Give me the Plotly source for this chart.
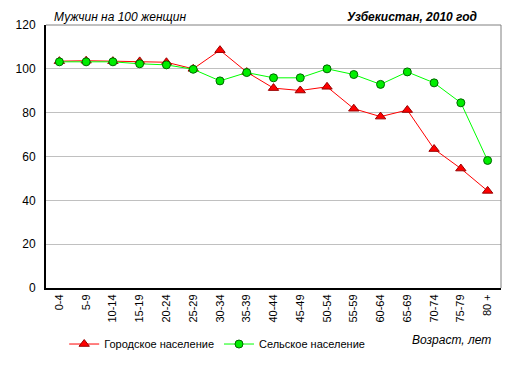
import plotly.graph_objects as go

categories = ["0-4", "5-9", "10-14", "15-19", "20-24", "25-29", "30-34", "35-39",
              "40-44", "45-49", "50-54", "55-59", "60-64", "65-69", "70-74", "75-79", "80 +"]
urban = [103.5, 103.7, 103.5, 103.4, 103.0, 100.0, 108.5, 98.5,
         91.2, 90.1, 91.8, 81.8, 78.2, 81.2, 63.4, 54.5, 44.3]
rural = [103.2, 103.2, 103.2, 102.3, 101.8, 99.8, 94.5, 98.3,
         95.9, 95.9, 100.0, 97.4, 92.9, 98.6, 93.6, 84.5, 58.2]
y_ticks = [0, 20, 40, 60, 80, 100, 120]

FONT = "Liberation Sans, Arial, sans-serif"

fig = go.Figure()
fig.add_trace(go.Scatter(
    x=categories, y=urban, mode="lines+markers", name="Городское население",
    line=dict(color="#ff0000", width=1),
    marker=dict(symbol="triangle-up", size=9, color="#ff0000",
                line=dict(color="#990000", width=1)),
))
fig.add_trace(go.Scatter(
    x=categories, y=rural, mode="lines+markers", name="Сельское население",
    line=dict(color="#00ff00", width=1),
    marker=dict(symbol="circle", size=8, color="#00ee00",
                line=dict(color="#006600", width=1)),
))

fig.update_layout(
    width=518, height=372,
    margin=dict(l=38, r=25, t=17, b=92, autoexpand=False),
    paper_bgcolor="white", plot_bgcolor="white",
    font=dict(family=FONT, size=11, color="black"),
    showlegend=True,
    legend=dict(orientation="h", x=0.04, y=-0.213, xanchor="left", yanchor="middle",
                font=dict(size=11), bgcolor="rgba(0,0,0,0)", itemwidth=30,
                tracegroupgap=0),
    xaxis=dict(type="category", range=[-0.5, 16.5], tickangle=-90, automargin=False,
               showgrid=False, showline=True, linecolor="black", linewidth=2,
               ticks="", tickfont=dict(size=11), zeroline=False),
    yaxis=dict(range=[0, 120], tickvals=y_ticks, showgrid=True, gridcolor="#c0c0c0",
               gridwidth=1, showline=True, linecolor="black", linewidth=2, automargin=False,
               ticks="", tickfont=dict(size=12), zeroline=False, ticklabelstandoff=6),
    shapes=[
        dict(type="line", xref="paper", yref="paper", x0=0, x1=1, y0=1, y1=1,
             line=dict(color="#808080", width=1)),
        dict(type="line", xref="paper", yref="paper", x0=1, x1=1, y0=0, y1=1,
             line=dict(color="#808080", width=1)),
    ],
    annotations=[
        dict(text="<i>Мужчин на 100 женщин</i>", xref="paper", yref="paper",
             x=0.015, y=1.0, xanchor="left", yanchor="bottom", showarrow=False,
             borderpad=0, font=dict(size=12, color="black")),
        dict(text="<b><i>Узбекистан, 2010 год</i></b>", xref="paper", yref="paper",
             x=0.949, y=1.0, xanchor="right", yanchor="bottom", showarrow=False,
             borderpad=0, font=dict(size=12, color="black")),
        dict(text="<i>Возраст, лет</i>", xref="paper", yref="paper",
             x=0.982, y=-0.165, xanchor="right", yanchor="top", showarrow=False,
             font=dict(size=12, color="black")),
    ],
)

fig.write_html("out.html")
